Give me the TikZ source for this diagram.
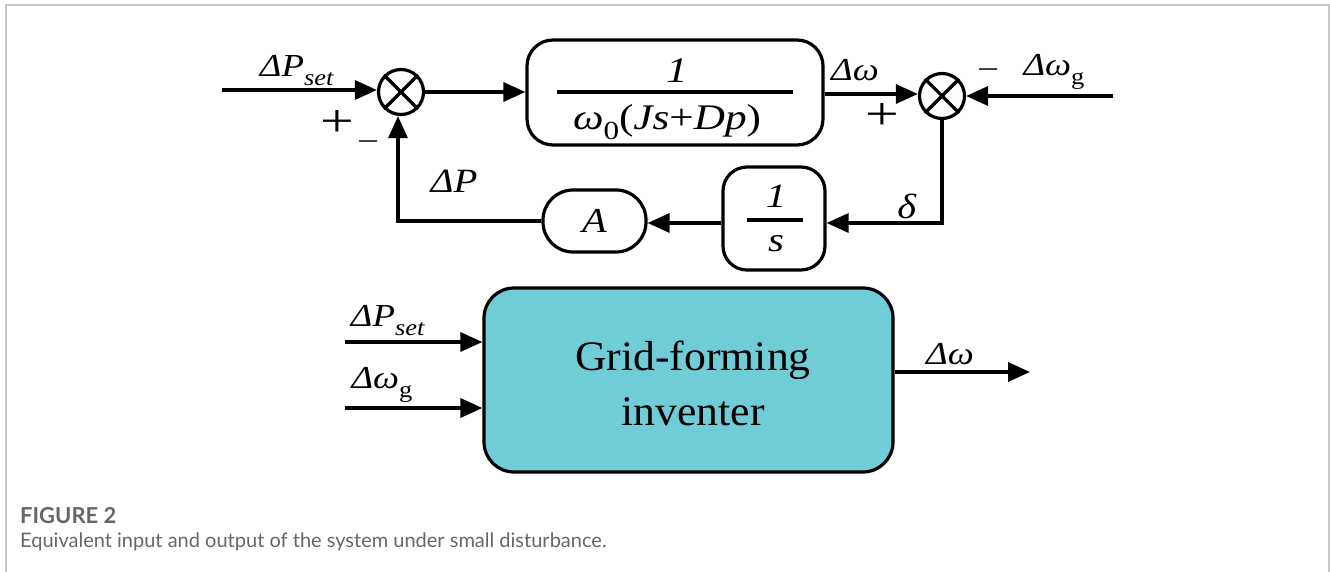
\documentclass[tikz,border=0pt]{standalone}
\usepackage{fontspec}
\setmainfont{Liberation Serif}
\newfontfamily\lblf[FakeStretch=1.15]{Liberation Serif}
\newfontfamily\sgnf[FakeStretch=1.3]{Liberation Serif}
\newfontfamily\denf[FakeStretch=1.2]{Liberation Serif}
\newfontfamily\gff[FakeStretch=1.04]{Liberation Serif}
\newfontfamily\capfont{Lato}
\usetikzlibrary{arrows.meta}
\definecolor{teal1}{HTML}{70CDD8}
\definecolor{capgray}{HTML}{666666}
\newcommand\lsub[1]{\raisebox{-0.28em}{\scalebox{0.72}{#1}}}
\begin{document}
\begin{tikzpicture}[x=1pt,y=-1pt,
  ln/.style={line width=3.2pt},
  arr/.style={line width=3.2pt,-{Triangle[length=22pt,width=19pt]}},
  blk/.style={draw,line width=3.2pt,inner sep=0pt},
  sumj/.style={draw,circle,line width=3.2pt,minimum size=45pt,inner sep=0pt},
  lab/.style={font=\lblf\fontsize{32}{34}\selectfont,inner sep=0pt},
  sgn/.style={font=\sgnf\fontsize{46}{46}\selectfont,inner sep=0pt},
  mns/.style={font=\sgnf\fontsize{30}{30}\selectfont,inner sep=0pt},
]
\useasboundingbox (0,0) rectangle (1330,572);
\draw[black!22,line width=1.5pt] (6,572) -- (6,5) -- (1329,5) -- (1329,572);

% summing junctions
\node[sumj] (s1) at (401,92) {};
\draw[ln] (s1.north west) -- (s1.south east) (s1.north east) -- (s1.south west);
\node[sumj] (s2) at (942,96) {};
\draw[ln] (s2.north west) -- (s2.south east) (s2.north east) -- (s2.south west);

% blocks
\node[blk,rounded corners=26pt,minimum width=296pt,minimum height=105pt] (b1) at (675,92.5) {};
\node[lab,font=\denf\fontsize{36}{36}\selectfont\itshape] (n1) at (677,71) {1};
\draw[ln] (557,92) -- (793,92);
\node[lab,font=\denf\fontsize{36}{36}\selectfont] (d1) at (667,122) {\textit{ω}\lsub{0}(\textit{Js}+\textit{Dp})};

\node[blk,rounded corners=24pt,minimum width=102pt,minimum height=103pt] (bs) at (774,218.5) {};
\node[lab,font=\denf\fontsize{34}{34}\selectfont\itshape] (n2) at (776,196) {1};
\draw[ln] (747,220) -- (803,220);
\node[lab,font=\denf\fontsize{34}{34}\selectfont\itshape] (d2) at (776,244) {s};

\node[blk,rounded corners=30pt,minimum width=103pt,minimum height=62pt,font=\lblf\fontsize{35}{35}\selectfont\itshape] (bA) at (594.5,221) {A};

% connectors top
\coordinate (in1) at (222,90);
\draw[arr] (in1) -- (in1 -| s1.west);
\draw[arr] (s1.east) -- (b1.west |- s1);
\draw[arr] (b1.east |- 0,94) -- (s2.west |- 0,94);
\coordinate (in2) at (1113,96);
\draw[arr] (in2) -- (s2.east);
\coordinate (c1) at (942,223);
\draw[arr] (s2.south) -- (c1) -- (c1 -| bs.east);
\draw[arr] (bs.west |- 0,223) -- (bA.east |- 0,223);
\coordinate (c2) at (398,221);
\draw[arr] (bA.west) -- (c2) -- (s1.south -| c2);

% labels top
\node[lab] (l1) at (297,71) {\textit{ΔP}\lsub{\textit{set}}};
\node[sgn] (p1) at (337,124) {+};
\node[mns] (m1) at (368,146) {−};
\node[lab,font=\lblf\fontsize{34}{34}\selectfont] (l2) at (454,181) {\textit{ΔP}};
\node[lab] (l3) at (855,70) {\textit{Δω}};
\node[sgn] (p2) at (882,117) {+};
\node[mns] (m2) at (988,74) {−};
\node[lab] (l4) at (1054,72) {\textit{Δω}\lsub{g}};
\node[lab,font=\lblf\fontsize{35}{35}\selectfont] (l5) at (907,206) {\textit{δ}};

% bottom block
\node[blk,fill=teal1,rounded corners=30pt,minimum width=409pt,minimum height=184pt] (gf) at (688.5,380) {};
\node[font=\gff\fontsize{42}{55}\selectfont,align=center,inner sep=0pt] (gft) at (693,383) {Grid-forming\\inventer};
\coordinate (i1) at (345,342);
\coordinate (i2) at (345,408);
\coordinate (o1) at (1030,372);
\draw[arr] (i1) -- (i1 -| gf.west);
\draw[arr] (i2) -- (i2 -| gf.west);
\draw[arr] (o1 -| gf.east) -- (o1);
\node[lab] (l6) at (388,321) {\textit{ΔP}\lsub{\textit{set}}};
\node[lab] (l7) at (382,385) {\textit{Δω}\lsub{g}};
\node[lab] (l8) at (950,354) {\textit{Δω}};

% caption
\node[anchor=west,inner sep=0pt,text=capgray,font=\capfont\bfseries\fontsize{22}{24}\selectfont] (cap1) at (20,516) {FIGURE 2};
\node[anchor=west,inner sep=0pt,text=capgray,font=\capfont\fontsize{20}{22}\selectfont] (cap2) at (20,542) {Equivalent input and output of the system under small disturbance.};
\end{tikzpicture}
\end{document}
